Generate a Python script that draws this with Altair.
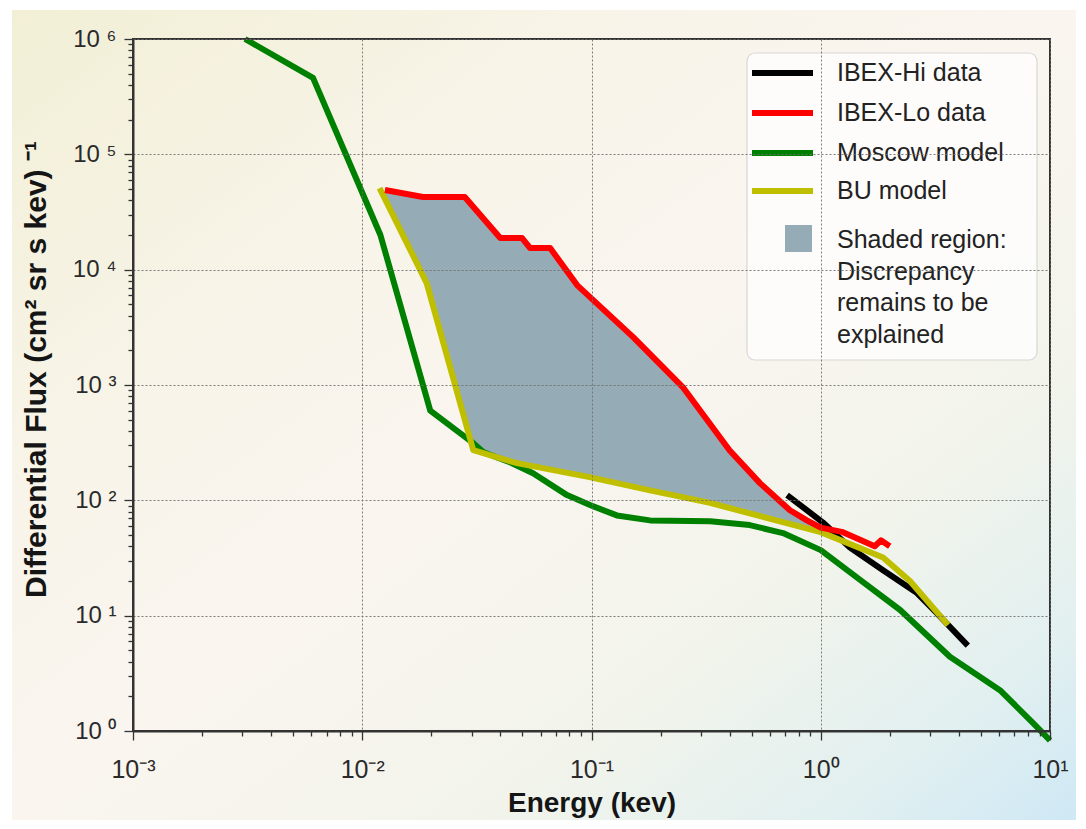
import altair as alt
import pandas as pd
import numpy as np

# ---------------- data ----------------
moscow_x = [0.00308, 0.0061, 0.012, 0.0198, 0.0305, 0.0337, 0.045, 0.0556, 0.0782, 0.0985, 0.129,
            0.18, 0.329, 0.49, 0.684, 1.0, 1.53, 2.22, 3.66, 6.05, 8.44, 10.0]
moscow_y = [1.0e6, 4.6e5, 2.0e4, 600, 313, 262, 210, 172, 111, 91, 74,
            67, 66, 61, 52, 37, 19.5, 11.2, 4.4, 2.26, 1.17, 0.83]

bu_x = [0.0119, 0.0191, 0.0305, 0.0473, 0.098, 0.18, 0.329, 0.49, 1.0, 1.87, 2.45, 3.59]
bu_y = [5.1e4, 7650, 272, 210, 159, 122, 95, 77, 53, 32, 20, 8.3]

lo_x = [0.01256, 0.0184, 0.028, 0.040, 0.0498, 0.054, 0.066, 0.0865, 0.152, 0.25,
        0.40, 0.543, 0.734, 0.87, 1.0, 1.25, 1.72, 1.83, 2.0]
lo_y = [4.9e4, 4.27e4, 4.27e4, 1.88e4, 1.88e4, 1.54e4, 1.54e4, 7350, 2600, 960,
        272, 141, 82, 67, 58, 53, 40, 45, 40]

hi_x = [0.713, 1.02, 1.34, 1.87, 2.63, 3.21, 4.38]
hi_y = [111, 64.5, 39, 24.8, 15.7, 10.5, 5.5]

legend_labels = ["IBEX-Hi data", "IBEX-Lo data", "Moscow model", "BU model"]
legend_colors = ["#000000", "#ff0000", "#008000", "#bfbf00"]
shade_label = "Shaded region:\nDiscrepancy\nremains to be\nexplained"
shade_color = "#95abb5"

x_tick_labels = ["10⁻³", "10⁻²", "10⁻¹", "10⁰", "10¹"]
y_tick_labels = ["10 ⁰", "10 ¹", "10 ²", "10 ³", "10 ⁴", "10 ⁵", "10 ⁶"]

# ---------------- frames ----------------
def series(xs, ys):
    return pd.DataFrame({"energy": xs, "flux": ys})

# shaded region between IBEX-Lo (top) and BU model (bottom), in log space
lx, ly = np.log10(lo_x), np.log10(lo_y)
bx, by = np.log10(bu_x), np.log10(bu_y)
grid_x = sorted(set([v for v in lo_x if v <= 1.0] + [v for v in bu_x if lo_x[0] <= v <= 1.0]))
gx = np.log10(grid_x)
top = np.interp(gx, lx, ly)
bot = np.minimum(np.interp(gx, bx, by), top)
shade_df = pd.DataFrame({"energy": grid_x, "top": 10 ** top, "bot": 10 ** bot})

# ---------------- axes ----------------
W, H = 917, 692
dec_test = "abs(log(datum.value)/LN10 - round(log(datum.value)/LN10)) < 0.001"
x_vals = [m * 10.0 ** k for k in range(-3, 1) for m in range(1, 10)] + [10.0]
y_vals = [m * 10.0 ** k for k in range(0, 6) for m in range(1, 10)] + [1.0e6]

x_arr = "[" + ",".join("'%s'" % s for s in x_tick_labels) + "]"
y_arr = "[" + ",".join("'%s'" % s for s in y_tick_labels) + "]"

x_axis = alt.Axis(
    values=x_vals,
    labelExpr=f"({dec_test}) ? {x_arr}[round(log(datum.value)/LN10)+3] : ''",
    labelOverlap=False, labelFlush=False,
    labelFont="Liberation Sans, Arial", labelFontSize=25,
    labelColor="#2a2a2a", labelPadding=17,
    grid=True, gridDash=[2, 2], gridColor="#6f6f6f", gridWidth=1,
    gridOpacity={"condition": {"test": dec_test, "value": 0.9}, "value": 0},
    tickSize={"condition": {"test": dec_test, "value": 9}, "value": 5},
    tickColor="#333333", tickWidth=1.3,
    domainColor="#333333", domainWidth=2,
    title="Energy (kev)", titleFont="Liberation Sans, Arial",
    titleFontSize=28, titleFontWeight="bold", titleColor="#151515",
    titleY=72, titleBaseline="middle",
    zindex=1,
)
y_axis = alt.Axis(
    values=y_vals,
    labelExpr=f"({dec_test}) ? {y_arr}[round(log(datum.value)/LN10)] : ''",
    labelOverlap=False, labelFlush=False,
    labelFont="Liberation Sans, Arial", labelFontSize=24,
    labelColor="#2a2a2a", labelPadding=8,
    grid=True, gridDash=[2, 2], gridColor="#6f6f6f", gridWidth=1,
    gridOpacity={"condition": {"test": dec_test, "value": 0.9}, "value": 0},
    tickSize={"condition": {"test": dec_test, "value": 9}, "value": 5},
    tickColor="#333333", tickWidth=1.3,
    domainColor="#333333", domainWidth=2,
    title="Differential Flux (cm² sr s kev) ⁻¹", titleFont="Liberation Sans, Arial",
    titleFontSize=30, titleFontWeight="bold", titleColor="#151515",
    titleX=-97, titleY=330, titleAngle=270, titleBaseline="middle", titleAlign="center",
    zindex=1,
)
xs = alt.Scale(type="log", domain=[0.001, 10])
ys = alt.Scale(type="log", domain=[1, 1.0e6])
X = alt.X("energy:Q", scale=xs, axis=x_axis)
Y = alt.Y("flux:Q", scale=ys, axis=y_axis)

one = pd.DataFrame({"a": [0]})

# ---------------- layers ----------------
bg = alt.Chart(one).mark_rect(
    color=alt.LinearGradient(
        gradient="linear", x1=0, y1=0, x2=1, y2=1,
        stops=[
            alt.GradientStop(color="#f2efd6", offset=0),
            alt.GradientStop(color="#f8f4e9", offset=0.3),
            alt.GradientStop(color="#faf5ef", offset=0.5),
            alt.GradientStop(color="#f2f4eb", offset=0.72),
            alt.GradientStop(color="#e2f0f0", offset=0.88),
            alt.GradientStop(color="#cfe8f5", offset=1),
        ],
    )
).encode(x=alt.value(-121), x2=alt.value(943), y=alt.value(-29), y2=alt.value(781))

shade = alt.Chart(shade_df).mark_area(color=shade_color, opacity=1).encode(
    x=X, y=alt.Y("top:Q", scale=ys, axis=y_axis), y2=alt.Y2("bot:Q")
)

def line(df, color):
    return alt.Chart(df).mark_line(color=color, strokeWidth=6, strokeJoin="round", strokeCap="butt").encode(
        x=X, y=Y, order=alt.Order("energy:Q")
    )

green = line(series(moscow_x, moscow_y), legend_colors[2])
black = line(series(hi_x, hi_y), legend_colors[0])
yellow = line(series(bu_x, bu_y), legend_colors[3])
red = line(series(lo_x, lo_y), legend_colors[1])

frame = alt.Chart(one).mark_rect(filled=False, stroke="#333333", strokeWidth=2).encode(
    x=alt.value(0), x2=alt.value(W), y=alt.value(0), y2=alt.value(H)
)

# ---------------- legend (drawn inside the plot) ----------------
lg_box = alt.Chart(one).mark_rect(
    fill="#ffffff", fillOpacity=0.72, stroke="#d8d8d8", strokeWidth=1.2, cornerRadius=8
).encode(x=alt.value(614), x2=alt.value(904), y=alt.value(14), y2=alt.value(321))

lg_layers = [lg_box]
row_y = [34, 74, 114, 152]
for lab, col, yy in zip(legend_labels, legend_colors, row_y):
    lg_layers.append(
        alt.Chart(one).mark_rule(color=col, strokeWidth=6).encode(
            x=alt.value(619), x2=alt.value(680), y=alt.value(yy)
        )
    )
    lg_layers.append(
        alt.Chart(one).mark_text(
            text=lab, align="left", baseline="middle", font="Liberation Sans, Arial",
            fontSize=25, color="#222222"
        ).encode(x=alt.value(704), y=alt.value(yy))
    )
lg_layers.append(
    alt.Chart(one).mark_rect(color=shade_color).encode(
        x=alt.value(652), x2=alt.value(679), y=alt.value(186), y2=alt.value(213)
    )
)
lg_layers.append(
    alt.Chart(one).mark_text(
        text=shade_label, lineBreak="\n", lineHeight=31.7, align="left", baseline="middle",
        font="Liberation Sans, Arial", fontSize=25, color="#222222"
    ).encode(x=alt.value(704), y=alt.value(201))
)

chart = alt.layer(bg, shade, green, black, yellow, red, frame, *lg_layers).properties(
    width=W, height=H,
    padding={"left": 133, "top": 39, "right": 36, "bottom": 98},
    autosize=alt.AutoSizeParams(type="none"),
    background="#ffffff",
).configure_view(stroke="#333333")

chart.save("out.html", embed_options={"renderer": "svg", "actions": False})
